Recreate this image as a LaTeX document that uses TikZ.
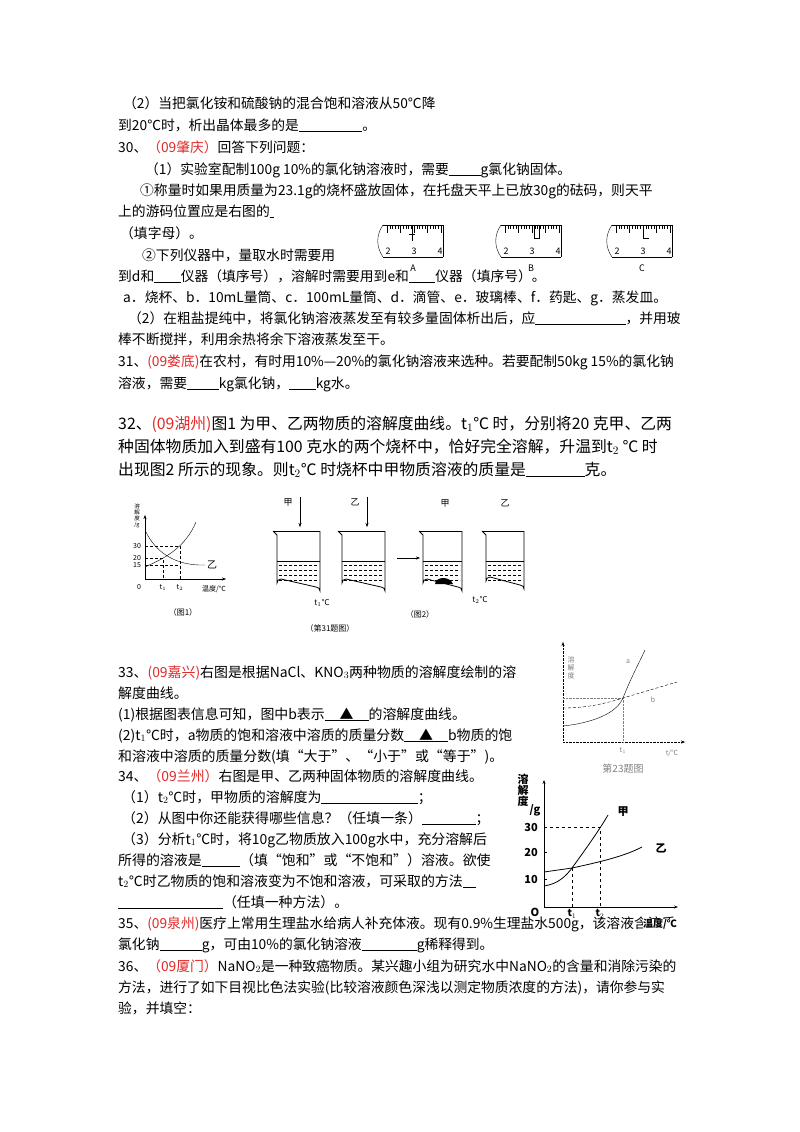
\documentclass[tikz,border=0pt]{standalone}
\usepackage{fontspec}
\setmainfont{Noto Sans CJK SC}
\usetikzlibrary{arrows.meta}
\definecolor{qred}{RGB}{225,40,40}
\newcommand\bl[1]{\underline{\hspace{#1pt}}}
\newcommand\qr[1]{\textcolor{qred}{#1}}
\newcommand\mybeaker[4]{%
 \draw[thick] (#1-4,#3) -- (#1,#3+4) -- (#1,#4-4) arc[start angle=180,end angle=270,radius=4] -- (#2-4,#4) arc[start angle=270,end angle=360,radius=4] -- (#2,#3);
 \draw[thick] (#1-4,#3) -- (#2,#3);
 \draw (#1,#3+30) -- (#2,#3+30);
 \pgfmathsetmacro\ya{#3+34}\pgfmathsetmacro\yb{#3+39}\pgfmathsetmacro\yc{#4-3}%
 \foreach \yy in {\ya,\yb,...,\yc} \draw[densely dashed,line width=0.5pt] (#1+2,\yy) -- (#2-2,\yy);}
\tikzset{base/.style={anchor=base west,inner sep=0,font=\fontsize{13}{15}\selectfont},
 mid/.style={base,scale=1.07,transform shape},
 txt/.style={base,scale=1.06,transform shape},
 sm/.style={inner sep=0,font=\fontsize{7}{8}\selectfont},
 big/.style={base,font=\fontsize{14}{16}\selectfont,scale=1.13,transform shape},
 ax/.style={-{Stealth[length=4pt]},thin}}
\begin{document}
\begin{tikzpicture}[x=1pt,y=-1pt]
\useasboundingbox (0,0) rectangle (800,1132);
\node[txt] (l1) at (123,108) {（2）当把氯化铵和硫酸钠的混合饱和溶液从50℃降};
\node[txt] (l2) at (118,130) {到20℃时，析出晶体最多的是\bl{60}。};
\node[txt] (l3) at (118,152) {30、\qr{（09肇庆）}回答下列问题：};
\node[txt] (l4) at (145,174) {（1）实验室配制100g 10\%的氯化钠溶液时，需要\bl{30}g氯化钠固体。};
\node[txt] (l5) at (140,195) {①称量时如果用质量为23.1g的烧杯盛放固体，在托盘天平上已放30g的砝码，则天平};
\node[txt] (l6) at (118,216) {上的游码位置应是右图的\bl{4}};
\node[txt] (l7) at (120,238) {（填字母）。};
\node[txt] (l8) at (142,260) {②下列仪器中，量取水时需要用};
\node[txt] (l9) at (118,281) {到d和\bl{25}仪器（填序号），溶解时需要用到e和\bl{25}仪器（填序号）。};
\node[txt] (l10) at (123,302) {a．烧杯、b．10mL量筒、c．100mL量筒、d．滴管、e．玻璃棒、f．药匙、g．蒸发皿。};
\node[txt] (l11) at (128,323) {（2）在粗盐提纯中，将氯化钠溶液蒸发至有较多量固体析出后，应\bl{85}，并用玻};
\node[txt] (l12) at (118,344) {棒不断搅拌，利用余热将余下溶液蒸发至干。};
\node[txt] (l13) at (118,366) {31、\qr{(09娄底)}在农村，有时用10\%—20\%的氯化钠溶液来选种。若要配制50kg 15\%的氯化钠};
\node[txt] (l14) at (118,388) {溶液，需要\bl{30}kg氯化钠，\bl{25}kg水。};
% rulers
\foreach \x/\n [count=\i] in {379/A,497/B,608/C}{
 \fill[white] (\x-2,222) rectangle (\x+66,260);
 \draw (\x+4,225) -- (\x+64,225) (\x+4,257) -- (\x+64,257);
 \draw (\x+4,225) .. controls (\x-3,235) and (\x-3,247) .. (\x+4,257);
 \draw (\x+64,225) -- (\x+64,257);
 \foreach \k in {0,...,20} {\pgfmathsetmacro\tl{mod(\k,5)==0?8:4}\draw (\x+8+\k*2.7,225) -- (\x+8+\k*2.7,225+\tl);}
 \node[sm,font=\fontsize{9}{9}\selectfont] (r\i2) at (\x+9,251) {2};
 \node[sm,font=\fontsize{9}{9}\selectfont] (r\i3) at (\x+35,251) {3};
 \node[sm,font=\fontsize{9}{9}\selectfont] (r\i4) at (\x+61,251) {4};
 \node[sm,font=\fontsize{9}{9}\selectfont,fill=white,inner sep=0.5pt] (rl\i) at (\x+34,268) {\n};
}
\draw (379+33,225) -- (379+33,241) (379+30,234) -- (379+36,234);
\draw (497+37,225) rectangle (497+42,238);
\draw (608+35,225) -- (608+35,238) -- (608+41,238);
% 32
\node[big] (p1) at (118,429) {32、\qr{(09湖州)}图1 为甲、乙两物质的溶解度曲线。t$_1$℃ 时，分别将20 克甲、乙两};
\node[big] (p2) at (118,452) {种固体物质加入到盛有100 克水的两个烧杯中，恰好完全溶解，升温到t$_2$ ℃ 时};
\node[big] (p3) at (118,475) {出现图2 所示的现象。则t$_2$℃ 时烧杯中甲物质溶液的质量是\bl{52}克。};
% fig1
\draw[ax] (145,579) -- (145,515);
\draw[ax] (145,579) -- (226,579);
\node[sm,align=center,font=\fontsize{5.5}{6}\selectfont] (f1y) at (137,516) {溶\\解\\度\\/g};
\node[sm] (f30) at (137,546) {30};
\node[sm] (f20) at (137,558) {20};
\node[sm] (f15) at (137,565) {15};
\node[sm] (f0) at (139,587) {0};
\node[sm] (ft1) at (163,588) {t$_1$};
\node[sm] (ft2) at (180,588) {t$_2$};
\node[sm] (fx) at (214,589) {温度/℃};
\draw[densely dashed,line width=0.4pt] (145,546) -- (180,546) -- (180,579) (145,558) -- (163,558) -- (163,579) (145,565) -- (180,565);
\draw (145,567) .. controls (165,558) and (185,548) .. (196,522);
\draw (145,530) .. controls (155,552) and (175,566) .. (205,565);
\node[sm,font=\fontsize{10}{10}\selectfont] (fyi) at (212,565) {乙};
\node[sm,font=\fontsize{8}{8}\selectfont] (fc1) at (183,612) {（图1）};
% beakers
\mybeaker{277}{320}{531}{587}
\mybeaker{342}{385}{531}{587}
\mybeaker{423}{462}{531}{587}
\mybeaker{486}{524}{531}{585}
\fill (435,584) .. controls (436,576) and (450,576) .. (453,584) -- cycle;
\node[sm,font=\fontsize{9}{9}\selectfont] (j1) at (288,502) {甲};
\node[sm,font=\fontsize{9}{9}\selectfont] (y1) at (355,502) {乙};
\node[sm,font=\fontsize{9}{9}\selectfont] (j2) at (445,503) {甲};
\node[sm,font=\fontsize{9}{9}\selectfont] (y2) at (505,503) {乙};
\coordinate (a1) at (300,497); \coordinate (a1e) at (300,527);
\coordinate (a2) at (367,497); \coordinate (a2e) at (367,527);
\draw[-{Stealth[length=4pt]},thin] (a1) -- (a1e);
\draw[-{Stealth[length=4pt]},thin] (a2) -- (a2e);
\coordinate (m1) at (397,558); \coordinate (m2) at (420,558);
\draw[-{Stealth[length=4pt]},thin] (m1) -- (m2);
\node[sm,font=\fontsize{8}{8}\selectfont] (tt1) at (322,603) {t$_1$℃};
\node[sm,font=\fontsize{8}{8}\selectfont] (tt2) at (480,600) {t$_2$℃};
\node[sm,font=\fontsize{8}{8}\selectfont] (fc2) at (420,614) {（图2）};
\node[sm,font=\fontsize{8}{8}\selectfont] (fc3) at (330,628) {（第31题图）};
% 33
\node[mid] (q1) at (118,677) {33、\qr{(09嘉兴)}右图是根据NaCl、KNO$_3$两种物质的溶解度绘制的溶};
\node[mid] (q2) at (118,698) {解度曲线。};
\node[mid] (q3) at (118,719) {(1)根据图表信息可知，图中b表示\underline{\hspace{14pt}▲\hspace{14pt}}的溶解度曲线。};
\node[mid] (q4) at (118,740) {(2)t$_1$℃时，a物质的饱和溶液中溶质的质量分数\underline{\hspace{14pt}▲\hspace{14pt}}b物质的饱};
\node[mid] (q5) at (118,761) {和溶液中溶质的质量分数(填“大于”、“小于”或“等于”)。};
\node[mid] (q6) at (118,781) {34、\qr{（09兰州）}右图是甲、乙两种固体物质的溶解度曲线。};
\node[mid] (q7) at (122,802) {（1）t$_2$℃时，甲物质的溶解度为\bl{90}；};
\node[mid] (q8) at (122,823) {（2）从图中你还能获得哪些信息？（任填一条）\bl{50}；};
\node[mid] (q9) at (122,844) {（3）分析t$_1$℃时，将10g乙物质放入100g水中，充分溶解后};
\node[mid] (q10) at (118,865) {所得的溶液是\bl{36}（填“饱和”或“不饱和”）溶液。欲使};
\node[mid] (q11) at (118,886) {t$_2$℃时乙物质的饱和溶液变为不饱和溶液，可采取的方法\bl{12}};
\node[mid] (q12) at (118,907) {\bl{98}（任填一种方法）。};
% fig 33
\draw[ax,densely dotted] (563,742) -- (563,642);
\draw[ax,densely dotted] (563,742) -- (685,742);
\node[sm,align=center,font=\fontsize{7}{8}\selectfont,gray] (g1y) at (571,668) {溶\\解\\度};
\draw[densely dotted,gray] (563,698) -- (623,698) -- (623,742);
\draw (563,726) .. controls (600,722) and (618,710) .. (623,698) .. controls (630,680) and (638,665) .. (645,650);
\draw[densely dashed] (563,708) .. controls (590,708) and (610,702) .. (623,698) -- (677,682);
\node[sm,gray] (ga) at (628,662) {a};
\node[sm,gray] (gb) at (653,700) {b};
\node[sm,gray] (gt1) at (623,751) {t$_1$};
\node[sm,gray] (gx) at (672,753) {t/℃};
\node[sm,gray,font=\fontsize{10}{10}\selectfont] (gc) at (623,769) {第23题图};
% 35 first (under fig labels)
\node[txt] (s1) at (118,928) {35、\qr{(09泉州)}医疗上常用生理盐水给病人补充体液。现有0.9\%生理盐水500g，该溶液含溶质};
% fig 34
\draw[ax,thick] (544,907) -- (544,780);
\draw[ax,thick] (544,907) -- (678,907);
\node[sm,align=center,font=\bfseries\fontsize{11}{11}\selectfont] (h1y) at (523,790) {溶\\解\\度};
\node[sm,font=\bfseries\fontsize{11}{11}\selectfont] (hg) at (535,810) {/g};
\node[sm,font=\bfseries\fontsize{11}{11}\selectfont] (h30) at (531,827) {30};
\node[sm,font=\bfseries\fontsize{11}{11}\selectfont] (h20) at (531,852) {20};
\node[sm,font=\bfseries\fontsize{11}{11}\selectfont] (h10) at (531,879) {10};
\node[sm,font=\bfseries\fontsize{11}{11}\selectfont] (hO) at (535,912) {O};
\node[sm,font=\bfseries\fontsize{10}{10}\selectfont] (ht1) at (572,914) {t$_1$};
\node[sm,font=\bfseries\fontsize{10}{10}\selectfont] (ht2) at (600,914) {t$_2$};
\node[sm,fill=white,font=\bfseries\fontsize{10}{10}\selectfont] (hx) at (660,924) {温度/℃};
\foreach \yy in {827,852,879} \draw (544,\yy) -- (547,\yy);
\draw[dashed] (544,827) -- (600,827) -- (600,907) (572,868) -- (572,907);
\draw[thick] (544,886) .. controls (558,884) and (566,876) .. (572,868) .. controls (585,850) and (598,832) .. (608,815);
\draw[thick] (544,872) -- (572,868) .. controls (600,862) and (625,856) .. (642,847);
\node[sm,font=\bfseries\fontsize{11}{11}\selectfont] (hj) at (623,812) {甲};
\node[sm,font=\bfseries\fontsize{11}{11}\selectfont] (hy) at (661,848) {乙};
% 35, 36
\node[txt] (s2) at (118,949) {氯化钠\bl{40}g，可由10\%的氯化钠溶液\bl{52}g稀释得到。};
\node[txt] (s3) at (118,971) {36、\qr{（09厦门）}NaNO$_2$是一种致癌物质。某兴趣小组为研究水中NaNO$_2$的含量和消除污染的};
\node[txt] (s4) at (118,992) {方法，进行了如下目视比色法实验(比较溶液颜色深浅以测定物质浓度的方法)，请你参与实};
\node[txt] (s5) at (118,1013) {验，并填空：};
\end{tikzpicture}
\end{document}
